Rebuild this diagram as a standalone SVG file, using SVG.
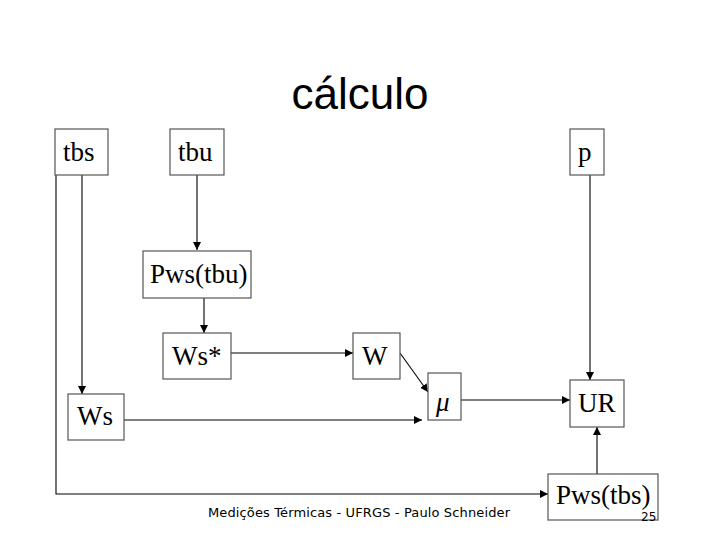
<svg xmlns="http://www.w3.org/2000/svg" width="720" height="540" viewBox="0 0 720 540">
<defs>
<marker id="ah" viewBox="0 0 10 10" refX="10" refY="5" markerWidth="8" markerHeight="8" markerUnits="userSpaceOnUse" orient="auto">
<path d="M0,0 L10,5 L0,10 z" fill="#000"/>
</marker>
</defs>
<style>
.box{fill:#fff;stroke:#555;stroke-width:1.2}
.lbl{font-family:"Liberation Serif","Times New Roman",serif;font-size:27px;fill:#000}
.arr{fill:none;stroke:#000;stroke-width:1.1;marker-end:url(#ah)}
</style>
<rect width="720" height="540" fill="#fff"/>
<text x="360" y="109" text-anchor="middle" font-family="Liberation Sans, Arial, sans-serif" font-size="44">cálculo</text>
<g id="connectors">
<path class="arr" d="M197,175 L197,250"/>
<path class="arr" d="M204,298 L204,333"/>
<path class="arr" d="M231,353 L353,353"/>
<path class="arr" d="M400,353 L428,392"/>
<path class="arr" d="M82,175 L82,394"/>
<path class="arr" d="M124,420 L422,420"/>
<path class="arr" d="M461,400 L570,400"/>
<path class="arr" d="M590,175 L590,380"/>
<path class="arr" d="M597,474 L597,427"/>
<path class="arr" d="M56,175 L56,494 L548,494"/>
</g>
<g id="tbs"><rect class="box" x="55" y="129" width="53" height="46"/><text class="lbl" x="63" y="161">tbs</text></g>
<g id="tbu"><rect class="box" x="170" y="129" width="54" height="46"/><text class="lbl" x="178" y="161">tbu</text></g>
<g id="p"><rect class="box" x="570" y="129" width="34" height="46"/><text class="lbl" x="578" y="161">p</text></g>
<g id="pws_tbu"><rect class="box" x="143" y="251" width="108" height="47"/><text class="lbl" x="150" y="283">Pws(tbu)</text></g>
<g id="ws_star"><rect class="box" x="163" y="333" width="68" height="46"/><text class="lbl" x="172" y="365">Ws*</text></g>
<g id="w"><rect class="box" x="353" y="333" width="47" height="46"/><text class="lbl" x="362" y="365">W</text></g>
<g id="mu"><rect class="box" x="428" y="373" width="33" height="47"/><text class="lbl" x="436" y="411" font-style="italic">μ</text></g>
<g id="ws"><rect class="box" x="68" y="394" width="56" height="46"/><text class="lbl" x="77" y="425">Ws</text></g>
<g id="ur"><rect class="box" x="570" y="380" width="54" height="47"/><text class="lbl" x="578" y="412">UR</text></g>
<g id="pws_tbs"><rect class="box" x="548" y="474" width="110" height="46"/><text class="lbl" x="556" y="504">Pws(tbs)</text></g>
<text x="208" y="517" font-family="DejaVu Sans, sans-serif" font-size="13" textLength="302">Medições Térmicas - UFRGS - Paulo Schneider</text>
<text x="641" y="521" font-family="DejaVu Sans, sans-serif" font-size="12">25</text>
</svg>
